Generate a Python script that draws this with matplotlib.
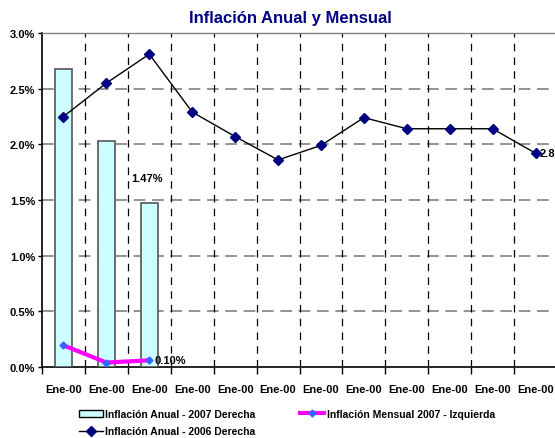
import matplotlib
matplotlib.use("Agg")
import matplotlib.pyplot as plt
from matplotlib.lines import Line2D
from matplotlib.patches import Patch
import numpy as np

plt.rcParams['font.family'] = ['Liberation Sans', 'DejaVu Sans']

categories = ["Ene-00"] * 12
anual_2007 = [2.68, 2.03, 1.47]
mensual_2007 = [0.195, 0.04, 0.06]
anual_2006 = [2.25, 2.55, 2.81, 2.29, 2.07, 1.86, 1.99, 2.24, 2.14, 2.14, 2.14, 1.92]
yticks = [0.0, 0.5, 1.0, 1.5, 2.0, 2.5, 3.0]

W, H = 555, 439
fig = plt.figure(figsize=(W/100, H/100), dpi=100)
ax = fig.add_axes([42/W, 1-368/H, (557-42)/W, (368-34)/H])

x = np.arange(len(categories))
ax.bar(x[:len(anual_2007)], anual_2007, width=0.4, color='#CCFFFF', edgecolor='#555555', linewidth=1.2, zorder=3)
ax.plot(x, anual_2006, color='black', lw=1, marker='D', ms=5, mfc='#000080', mec='#000080', zorder=4, clip_on=False)
ax.plot(x[:len(mensual_2007)], mensual_2007, color='#FF00FF', lw=3, marker='D', ms=3.5, mfc='#3366FF', mec='#3366FF', zorder=5)

ax.set_xlim(-0.5, len(categories)-0.5)
ax.set_ylim(0, 3.0)
ax.set_yticks(yticks)
ax.set_yticklabels([f"{v:.1f}%" for v in yticks], fontsize=8, fontweight='bold')
ax.set_xticks(x)
ax.set_xticklabels(categories, fontsize=8, fontweight='bold')
ax.tick_params(axis='x', length=0, pad=12)
ax.set_xticks(np.arange(-0.5, len(categories)), minor=True)
ax.tick_params(axis='x', which='minor', length=5, direction='out', width=1)
ax.tick_params(axis='y', length=3, direction='out', width=1, pad=2)

for v in yticks[1:]:
    ax.axhline(v, color='#808080', lw=1.2, ls=(0, (7, 4)), zorder=1)
for b in np.arange(0.5, len(categories)-0.5):
    ax.axvline(b, color='black', lw=0.9, ls=(0, (6, 5)), zorder=1)

for s in ['left', 'bottom']:
    ax.spines[s].set_color('black'); ax.spines[s].set_linewidth(1.2)
for s in ['top', 'right']:
    ax.spines[s].set_color('#808080'); ax.spines[s].set_linewidth(1)

ax.annotate(f"{anual_2007[2]:.2f}%", (x[2], anual_2007[2]), xytext=(-2, 18), textcoords='offset points',
            ha='center', va='center', fontsize=8, fontweight='bold')
ax.annotate("0.10%", (x[2], mensual_2007[2]), xytext=(4, 0), textcoords='offset points',
            ha='left', va='center', fontsize=8, fontweight='bold')
ax.annotate("2.87", (x[11], anual_2006[11]), xytext=(3, 0), textcoords='offset points',
            ha='left', va='center', fontsize=8, fontweight='bold', annotation_clip=False)

fig.text(290/W, 1-18/H, "Inflación Anual y Mensual", ha='center', va='center',
         fontsize=12, fontweight='bold', color='#000080')

h_bar = Patch(facecolor='#CCFFFF', edgecolor='black', linewidth=1)
h_2006 = Line2D([], [], color='black', lw=1, marker='D', ms=5, mfc='#000080', mec='#000080')
h_mens = Line2D([], [], color='#FF00FF', lw=3, marker='D', ms=3.5, mfc='#3366FF', mec='#3366FF')
leg = fig.legend([h_bar, h_2006, h_mens],
                 ["Inflación Anual - 2007 Derecha", "Inflación Anual - 2006 Derecha", "Inflación Mensual 2007 - Izquierda"],
                 ncol=2, loc='center', bbox_to_anchor=(287/W, 1-423.5/H), frameon=False,
                 prop={'size': 7.5, 'weight': 'bold'}, handlelength=2.3, handletextpad=0.2,
                 columnspacing=4.3, labelspacing=0.7, borderpad=0)

fig.savefig("out.png", dpi=100)
